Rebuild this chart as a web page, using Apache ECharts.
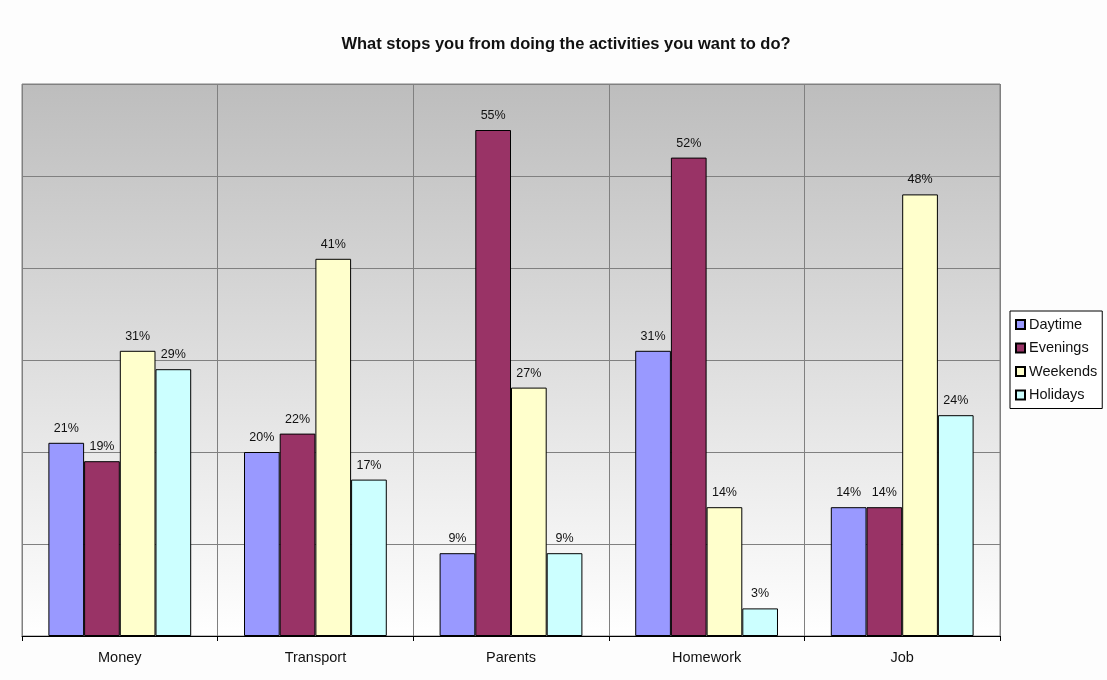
<!DOCTYPE html>
<html><head><meta charset="utf-8">
<script src="https://cdn.jsdelivr.net/npm/echarts@6/dist/echarts.min.js"></script>
<style>html,body{margin:0;padding:0;background:#fdfdfd;}#c{width:1107px;height:680px;}</style>
</head><body><div id="c"></div>
<script>
const categories = ['Money', 'Transport', 'Parents', 'Homework', 'Job'];
const daytime = [21, 20, 9, 31, 14];
const evenings = [19, 22, 55, 52, 14];
const weekends = [31, 41, 27, 14, 48];
const holidays = [29, 17, 9, 3, 24];
const seriesNames = ['Daytime', 'Evenings', 'Weekends', 'Holidays'];
const seriesColors = ['#9999ff', '#993366', '#ffffcc', '#ccffff'];
const seriesData = [daytime, evenings, weekends, holidays];
const FONT = 'Liberation Sans, Arial, sans-serif';

const chart = echarts.init(document.getElementById('c'));
chart.setOption({
  backgroundColor: '#fdfdfd',
  animation: false,
  title: {
    text: 'What stops you from doing the activities you want to do?',
    left: 561, top: 31, textAlign: 'center',
    textStyle: { fontFamily: FONT, fontSize: 16.5, fontWeight: 'bold', color: '#111' }
  },
  legend: {
    orient: 'vertical', left: 1010, top: 311,
    data: seriesNames,
    itemWidth: 9, itemHeight: 9, itemGap: 8.5,
    borderColor: '#000', borderWidth: 1, padding: [6, 5, 6, 5],
    backgroundColor: '#fff',
    icon: 'rect',
    textStyle: { fontFamily: FONT, fontSize: 14.5, color: '#111', padding: [0, 0, 0, -1] }
  },
  grid: {
    left: 22, right: 107, top: 84, bottom: 44,
    show: true, borderColor: '#808080', borderWidth: 1,
    backgroundColor: {
      type: 'linear', x: 0, y: 0, x2: 0, y2: 1,
      colorStops: [{ offset: 0, color: '#bdbdbd' }, { offset: 1, color: '#ffffff' }]
    }
  },
  xAxis: {
    type: 'category', data: categories,
    axisLine: { lineStyle: { color: '#000' } },
    axisTick: { show: true, length: 5, lineStyle: { color: '#000' } },
    splitLine: { show: true, lineStyle: { color: '#808080' } },
    axisLabel: { fontFamily: FONT, fontSize: 14.5, color: '#111', margin: 14 }
  },
  yAxis: {
    type: 'value', min: 0, max: 60, interval: 10,
    axisLine: { show: false }, axisTick: { show: false }, axisLabel: { show: false },
    splitLine: { lineStyle: { color: '#808080' } }
  },
  series: seriesNames.map((n, i) => ({
    name: n, type: 'bar', data: seriesData[i],
    barGap: '0%', barCategoryGap: '27%',
    itemStyle: { color: seriesColors[i], borderColor: '#000', borderWidth: 1 },
    label: {
      show: true, position: 'top', formatter: '{c}%', distance: 8,
      fontFamily: FONT, fontSize: 12.5, color: '#111'
    }
  }))
});
</script></body></html>
